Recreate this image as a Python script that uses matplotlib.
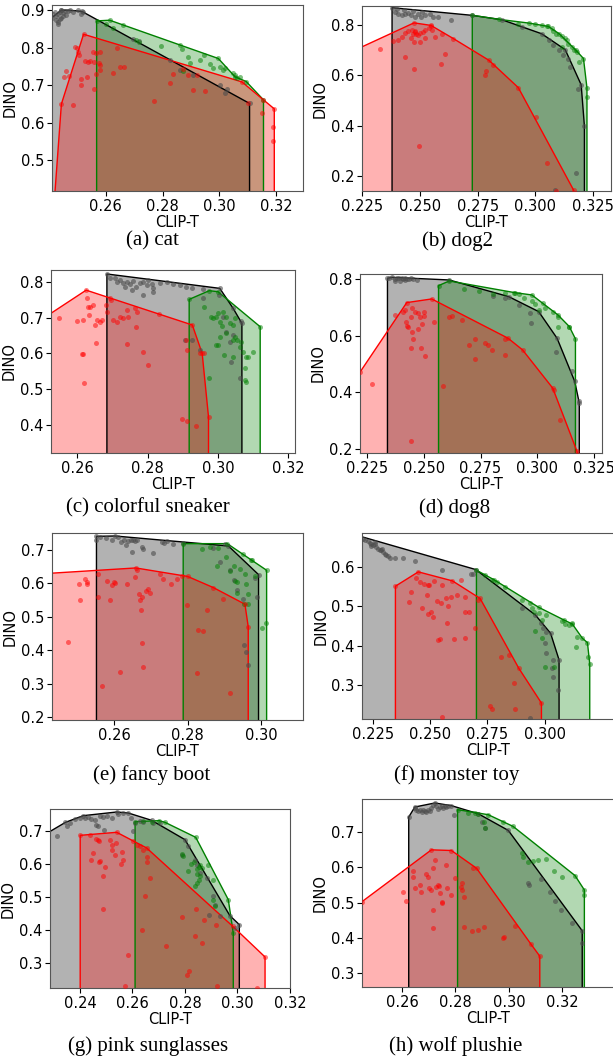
import numpy as np
import matplotlib
matplotlib.use("Agg")
import matplotlib.pyplot as plt

# ------------------------------------------------------------------
# Data (CLIP-T, DINO).  *_front = upper hull
# vertices, *_pts = remaining samples.
# ------------------------------------------------------------------

# (a) cat
cat_gray_front = [(0.2410, 0.880), (0.2444, 0.9005), (0.2475, 0.900), (0.2516, 0.897), (0.3106, 0.6515)]
cat_gray_pts = [(0.2414, 0.889), (0.2420, 0.8956), (0.2426, 0.884), (0.2432, 0.890), (0.2438, 0.8956),
                (0.2444, 0.900), (0.2449, 0.893), (0.2455, 0.898), (0.2461, 0.887), (0.2426, 0.875),
                (0.2432, 0.868), (0.2438, 0.878), (0.2432, 0.8627), (0.2444, 0.880), (0.2449, 0.884),
                (0.2467, 0.899), (0.2485, 0.8956), (0.2502, 0.900), (0.2520, 0.8956), (0.2514, 0.890),
                (0.2696, 0.8246), (0.2718, 0.818), (0.2826, 0.767), (0.2861, 0.740), (0.2906, 0.727),
                (0.3002, 0.700), (0.3020, 0.678), (0.3028, 0.690)]
cat_green_front = [(0.2568, 0.8716), (0.2614, 0.8734), (0.2996, 0.7714), (0.3055, 0.7226), (0.3094, 0.710),
                   (0.3155, 0.661)]
cat_green_pts = [(0.2602, 0.8627), (0.2624, 0.8539), (0.2661, 0.862), (0.2708, 0.822), (0.2718, 0.8157),
                 (0.2795, 0.805), (0.2861, 0.8085), (0.2867, 0.7980), (0.2891, 0.7758), (0.2896, 0.7581),
                 (0.2932, 0.7670), (0.2944, 0.7800), (0.2979, 0.7450), (0.2967, 0.7560), (0.3002, 0.7492),
                 (0.3014, 0.7404), (0.3020, 0.7450), (0.3049, 0.7315), (0.3055, 0.7270), (0.3061, 0.7182),
                 (0.3073, 0.7226), (0.2873, 0.7386)]
cat_red_front = [(0.2420, 0.40), (0.2444, 0.6499), (0.2522, 0.836), (0.3079, 0.709), (0.3155, 0.661),
                 (0.3193, 0.637)]
cat_red_pts = [(0.2491, 0.802), (0.2500, 0.800), (0.2502, 0.790), (0.2506, 0.780), (0.2514, 0.716),
               (0.2512, 0.700), (0.2534, 0.723), (0.2528, 0.765), (0.2538, 0.7625), (0.2546, 0.7652),
               (0.2555, 0.7891), (0.2558, 0.7625), (0.2567, 0.7847), (0.2579, 0.7891), (0.2576, 0.7581),
               (0.2581, 0.7537), (0.2579, 0.7404), (0.2558, 0.6889), (0.2567, 0.7297), (0.2485, 0.647),
               (0.2471, 0.724), (0.2461, 0.739), (0.2638, 0.800), (0.2626, 0.733), (0.2649, 0.749),
               (0.2664, 0.749), (0.2769, 0.658), (0.2826, 0.705), (0.2838, 0.730), (0.2871, 0.743),
               (0.2891, 0.7271), (0.2906, 0.6871), (0.2949, 0.685), (0.2922, 0.727), (0.3102, 0.653),
               (0.3149, 0.625), (0.3188, 0.590), (0.3188, 0.550), (0.2453, 0.7226)]

# (b) dog2
dog2_gray_front = [(0.2380, 0.867), (0.2724, 0.837), (0.2854, 0.8197), (0.3027, 0.764), (0.3129, 0.701),
                   (0.3198, 0.562), (0.3212, 0.399)]
dog2_gray_pts = [(0.2392, 0.850), (0.2406, 0.843), (0.2421, 0.837), (0.2435, 0.843), (0.2449, 0.845),
                 (0.2464, 0.837), (0.2478, 0.830), (0.2493, 0.843), (0.2507, 0.830), (0.2522, 0.837),
                 (0.2543, 0.843), (0.2558, 0.830), (0.2579, 0.830), (0.2637, 0.820), (0.2400, 0.860),
                 (0.2430, 0.857), (0.2470, 0.852), (0.2510, 0.848), (0.2941, 0.791), (0.3078, 0.718),
                 (0.3143, 0.666), (0.3150, 0.633), (0.3183, 0.547), (0.3175, 0.212), (0.3085, 0.145),
                 (0.3060, 0.740), (0.3100, 0.700), (0.3120, 0.680)]
dog2_green_front = [(0.2727, 0.837), (0.2842, 0.821), (0.2973, 0.806), (0.3056, 0.793), (0.3103, 0.764),
                    (0.3175, 0.699), (0.3208, 0.666), (0.3223, 0.550)]
dog2_green_pts = [(0.2926, 0.804), (0.2999, 0.801), (0.3027, 0.797), (0.3049, 0.796), (0.3071, 0.788),
                  (0.3078, 0.775), (0.3088, 0.764), (0.3114, 0.754), (0.3129, 0.749), (0.3136, 0.738),
                  (0.3143, 0.725), (0.3157, 0.712), (0.3165, 0.699), (0.3179, 0.692), (0.3189, 0.653),
                  (0.3223, 0.514), (0.3114, 0.711)]
dog2_red_front = [(0.2150, 0.670), (0.2475, 0.807), (0.2548, 0.797), (0.2645, 0.745), (0.2799, 0.659),
                  (0.2926, 0.551), (0.3165, 0.146), (0.3175, 0.100)]
dog2_red_pts = [(0.2327, 0.703), (0.2384, 0.734), (0.2406, 0.741), (0.2423, 0.751), (0.2435, 0.767),
                (0.2449, 0.775), (0.2467, 0.780), (0.2471, 0.764), (0.2478, 0.776), (0.2481, 0.770),
                (0.2485, 0.764), (0.2493, 0.758), (0.2500, 0.767), (0.2514, 0.771), (0.2524, 0.780),
                (0.2538, 0.788), (0.2547, 0.793), (0.2552, 0.780), (0.2566, 0.751), (0.2524, 0.749),
                (0.2503, 0.732), (0.2477, 0.730), (0.2460, 0.746), (0.2435, 0.672), (0.2473, 0.626),
                (0.2591, 0.646), (0.2608, 0.683), (0.2594, 0.764), (0.2785, 0.617), (0.2782, 0.600),
                (0.2818, 0.640), (0.3001, 0.433), (0.3049, 0.251), (0.2496, 0.321), (0.3088, 0.142)]

# (c) colorful sneaker
sneaker_gray_front = [(0.2684, 0.8235), (0.3005, 0.7831), (0.3043, 0.727), (0.3068, 0.6845)]
sneaker_gray_pts = [(0.2693, 0.8113), (0.2707, 0.8113), (0.2712, 0.8019), (0.2721, 0.8066), (0.2731, 0.7972),
                    (0.2735, 0.7878), (0.2740, 0.8019), (0.2749, 0.7944), (0.2759, 0.8038), (0.2768, 0.7878),
                    (0.2778, 0.7972), (0.2787, 0.8019), (0.2797, 0.7925), (0.2802, 0.8066), (0.2811, 0.7944),
                    (0.2816, 0.7831), (0.2835, 0.7972), (0.2854, 0.800), (0.2872, 0.7944), (0.2891, 0.7925),
                    (0.2910, 0.7878), (0.2926, 0.7831), (0.2958, 0.7812), (0.2787, 0.764), (0.2814, 0.774),
                    (0.2754, 0.7784), (0.2958, 0.7549), (0.3003, 0.7643), (0.3014, 0.7033), (0.3024, 0.661),
                    (0.3037, 0.5765), (0.3062, 0.530), (0.3043, 0.6516), (0.3033, 0.6329), (0.2907, 0.6376),
                    (0.2950, 0.6094), (0.2926, 0.6376), (0.3066, 0.690)]
sneaker_green_front = [(0.2918, 0.7521), (0.2975, 0.7765), (0.3000, 0.7737), (0.3120, 0.6751)]
sneaker_green_pts = [(0.2960, 0.7315), (0.2981, 0.7033), (0.2986, 0.6986), (0.2995, 0.7014), (0.3005, 0.6892),
                     (0.3000, 0.7127), (0.3014, 0.7174), (0.3024, 0.7033), (0.3033, 0.6845), (0.3043, 0.6798),
                     (0.3047, 0.6986), (0.2995, 0.6235), (0.3005, 0.6469), (0.3012, 0.6779), (0.3024, 0.6563),
                     (0.3043, 0.6376), (0.3047, 0.6469), (0.3054, 0.6376), (0.3066, 0.6329), (0.3062, 0.6188),
                     (0.3071, 0.6047), (0.3081, 0.5906), (0.3085, 0.5906), (0.3100, 0.6047), (0.3076, 0.5577),
                     (0.3081, 0.5202), (0.3076, 0.5249), (0.3043, 0.5906), (0.3016, 0.5953), (0.3000, 0.6235),
                     (0.2975, 0.530)]
sneaker_red_front = [(0.2505, 0.700), (0.2625, 0.778), (0.2927, 0.680), (0.2955, 0.600), (0.2973, 0.4216)]
sneaker_red_pts = [(0.2549, 0.699), (0.2600, 0.6911), (0.2617, 0.6939), (0.2628, 0.7549), (0.2631, 0.7315),
                   (0.2634, 0.7080), (0.2636, 0.7315), (0.2645, 0.7362), (0.2650, 0.6798), (0.2655, 0.6939),
                   (0.2664, 0.6892), (0.2669, 0.6939), (0.2681, 0.7362), (0.2683, 0.7174), (0.2693, 0.7549),
                   (0.2697, 0.7502), (0.2702, 0.6939), (0.2712, 0.6892), (0.2721, 0.7033), (0.2731, 0.6986),
                   (0.2740, 0.7221), (0.2745, 0.7033), (0.2764, 0.7268), (0.2770, 0.7174), (0.2767, 0.6751),
                   (0.2612, 0.598), (0.2617, 0.598), (0.2620, 0.517), (0.2652, 0.6282), (0.2740, 0.6254),
                   (0.2787, 0.6047), (0.2802, 0.5671), (0.2833, 0.7099), (0.2910, 0.6376), (0.2912, 0.6094),
                   (0.2899, 0.415), (0.2912, 0.4103), (0.2937, 0.3962), (0.2950, 0.6000), (0.2960, 0.6000)]

# (d) dog8
dog8_gray_front = [(0.2340, 0.8024), (0.2359, 0.8059), (0.2612, 0.7965), (0.2874, 0.7376), (0.3006, 0.6847),
                   (0.3087, 0.5906), (0.3165, 0.4376), (0.3185, 0.3612)]
dog8_gray_pts = [(0.2347, 0.8024), (0.2371, 0.800), (0.2381, 0.8024), (0.2391, 0.8047), (0.2403, 0.8024),
                 (0.2410, 0.800), (0.2418, 0.8047), (0.2425, 0.7988), (0.2435, 0.800), (0.2444, 0.8024),
                 (0.2454, 0.800), (0.2469, 0.7965), (0.2396, 0.7929), (0.2374, 0.7929), (0.2418, 0.7953),
                 (0.2807, 0.7400), (0.2918, 0.7082), (0.2969, 0.6788), (0.2974, 0.6435), (0.3082, 0.5435),
                 (0.3153, 0.4729), (0.3182, 0.3671), (0.2856, 0.7340)]
dog8_green_front = [(0.2565, 0.7765), (0.2612, 0.7929), (0.2900, 0.7518), (0.2976, 0.7435), (0.3024, 0.7141),
                    (0.3091, 0.6729), (0.3141, 0.6318), (0.3168, 0.5882)]
dog8_green_pts = [(0.2679, 0.7647), (0.2741, 0.7576), (0.2803, 0.7459), (0.2859, 0.7494), (0.2896, 0.7494),
                  (0.2918, 0.7459), (0.2940, 0.7341), (0.2976, 0.7224), (0.2991, 0.7106), (0.3006, 0.6906),
                  (0.3035, 0.6965), (0.3068, 0.6847), (0.3090, 0.6671), (0.3091, 0.6318), (0.3138, 0.6318)]
dog8_red_front = [(0.2219, 0.4706), (0.2425, 0.7165), (0.2535, 0.7294), (0.2871, 0.5906), (0.2935, 0.5494),
                  (0.3068, 0.4141), (0.3175, 0.1906), (0.3180, 0.170)]
dog8_red_pts = [(0.2271, 0.428), (0.2374, 0.6729), (0.2410, 0.6847), (0.2418, 0.6906), (0.2422, 0.649),
                (0.2425, 0.6353), (0.2432, 0.6318), (0.2444, 0.6671), (0.2450, 0.6965), (0.2462, 0.6847),
                (0.2476, 0.6788), (0.2484, 0.6671), (0.2499, 0.6706), (0.2499, 0.6824), (0.2474, 0.6235),
                (0.2494, 0.640), (0.2454, 0.5882), (0.2444, 0.5576), (0.2450, 0.6141), (0.2488, 0.5553),
                (0.2506, 0.5282), (0.2547, 0.649), (0.2444, 0.2259), (0.2612, 0.6671), (0.2624, 0.6694),
                (0.2668, 0.655), (0.2700, 0.5671), (0.2726, 0.5882), (0.2771, 0.5729), (0.2782, 0.5671),
                (0.2800, 0.5494), (0.2856, 0.5882), (0.2859, 0.5318), (0.2726, 0.5176), (0.3072, 0.4082),
                (0.3101, 0.3012), (0.2586, 0.4200)]

# (e) fancy boot
boot_gray_front = [(0.2552, 0.7398), (0.2602, 0.7408), (0.2911, 0.7109), (0.2993, 0.6254)]
boot_gray_pts = [(0.2552, 0.7298), (0.2561, 0.7378), (0.2579, 0.7358), (0.2593, 0.7298), (0.2611, 0.7378),
                 (0.2620, 0.7229), (0.2626, 0.7278), (0.2632, 0.7129), (0.2638, 0.7258), (0.2645, 0.7298),
                 (0.2652, 0.7278), (0.2656, 0.7258), (0.2661, 0.7278), (0.2679, 0.7030), (0.2675, 0.7080),
                 (0.2650, 0.6930), (0.2706, 0.6911), (0.2729, 0.7229), (0.2735, 0.7199), (0.2743, 0.7258),
                 (0.2759, 0.7179), (0.2788, 0.7199), (0.2870, 0.7050), (0.2902, 0.7159), (0.2888, 0.6632),
                 (0.2915, 0.6384), (0.2925, 0.6085), (0.2935, 0.5787), (0.2952, 0.5539), (0.2988, 0.5589),
                 (0.2984, 0.6165), (0.2954, 0.4147), (0.2959, 0.3948), (0.2963, 0.3551)]
boot_green_front = [(0.2788, 0.7179), (0.2908, 0.7179), (0.2972, 0.6702), (0.3015, 0.6384)]
boot_green_pts = [(0.2838, 0.7010), (0.2861, 0.7080), (0.2884, 0.7060), (0.2879, 0.6503), (0.2905, 0.6781),
                  (0.2914, 0.6364), (0.2925, 0.6503), (0.2930, 0.6066), (0.2935, 0.6036), (0.2943, 0.6433),
                  (0.2956, 0.6284), (0.2959, 0.5986), (0.2963, 0.5668), (0.2963, 0.5370), (0.2954, 0.5370),
                  (0.2935, 0.5718), (0.3002, 0.4674), (0.3014, 0.4823), (0.2950, 0.6881), (0.2975, 0.6682),
                  (0.2984, 0.6205)]
boot_red_front = [(0.2420, 0.629), (0.2659, 0.6453), (0.2800, 0.620), (0.2870, 0.5867), (0.2956, 0.5370),
                  (0.2965, 0.4694)]
boot_red_pts = [(0.2475, 0.4247), (0.2504, 0.5986), (0.2506, 0.5489), (0.2520, 0.6135), (0.2525, 0.6036),
                (0.2526, 0.5986), (0.2556, 0.6264), (0.2556, 0.5588), (0.2581, 0.6066), (0.2588, 0.5489),
                (0.2595, 0.5936), (0.2599, 0.6036), (0.2602, 0.6006), (0.2634, 0.5986), (0.2656, 0.6185),
                (0.2663, 0.6404), (0.2668, 0.5688), (0.2670, 0.5489), (0.2672, 0.5191), (0.2675, 0.5588),
                (0.2677, 0.4197), (0.2679, 0.3501), (0.2688, 0.5767), (0.2697, 0.5718), (0.2693, 0.5837),
                (0.2725, 0.6264), (0.2734, 0.6135), (0.2754, 0.5986), (0.2770, 0.6135), (0.2784, 0.6205),
                (0.2797, 0.5340), (0.2825, 0.3302), (0.2829, 0.4614), (0.2854, 0.5191), (0.2897, 0.5539),
                (0.2915, 0.2706), (0.2568, 0.2934), (0.2617, 0.3352), (0.2841, 0.4560)]

# (f) monster toy
toy_gray_front = [(0.2180, 0.680), (0.2699, 0.5933), (0.2960, 0.4778), (0.3026, 0.4315), (0.3063, 0.3641)]
toy_gray_pts = [(0.2206, 0.6716), (0.2216, 0.6674), (0.2228, 0.6657), (0.2235, 0.6607), (0.2243, 0.6590),
                (0.2250, 0.6548), (0.2257, 0.6573), (0.2265, 0.6505), (0.2272, 0.6463), (0.2279, 0.6438),
                (0.2287, 0.6421), (0.2294, 0.6379), (0.2301, 0.6337), (0.2309, 0.6295), (0.2316, 0.6270),
                (0.2323, 0.6236), (0.2345, 0.6236), (0.2382, 0.6236), (0.2433, 0.6152), (0.2550, 0.5910),
                (0.2679, 0.5815), (0.2689, 0.5815), (0.2899, 0.4947), (0.2982, 0.4585), (0.2992, 0.4441),
                (0.3004, 0.4357), (0.3001, 0.4079), (0.3004, 0.3810), (0.3036, 0.3641), (0.3033, 0.3430),
                (0.3036, 0.3220), (0.3060, 0.2883), (0.2938, 0.2167), (0.2240, 0.6520), (0.2290, 0.6460),
                (0.2260, 0.6620)]
toy_green_front = [(0.2702, 0.5916), (0.2777, 0.5680), (0.2975, 0.4972), (0.3085, 0.4652), (0.3121, 0.4551),
                   (0.3165, 0.4189), (0.3187, 0.4079), (0.3197, 0.3540)]
toy_green_pts = [(0.2740, 0.5789), (0.2770, 0.5680), (0.2792, 0.5621), (0.2828, 0.5495), (0.2902, 0.5158),
                 (0.2934, 0.5090), (0.2945, 0.4947), (0.2953, 0.4863), (0.2975, 0.4821), (0.2989, 0.4652),
                 (0.3004, 0.4778), (0.3001, 0.3473), (0.3041, 0.3473), (0.3077, 0.4635), (0.3089, 0.4551),
                 (0.3121, 0.4568), (0.3107, 0.4526), (0.3143, 0.4231), (0.3139, 0.3978), (0.3191, 0.3709),
                 (0.2960, 0.4370), (0.2990, 0.4200)]
toy_red_front = [(0.2348, 0.5511), (0.2448, 0.5874), (0.2597, 0.5646), (0.2718, 0.5200), (0.2887, 0.3430),
                 (0.2986, 0.2546)]
toy_red_pts = [(0.2415, 0.5368), (0.2407, 0.5115), (0.2440, 0.5730), (0.2455, 0.5621), (0.2465, 0.4947),
               (0.2474, 0.5579), (0.2484, 0.5284), (0.2489, 0.4804), (0.2492, 0.5537), (0.2494, 0.5537),
               (0.2503, 0.4863), (0.2514, 0.4736), (0.2518, 0.5646), (0.2528, 0.5141), (0.2536, 0.4147),
               (0.2543, 0.4180), (0.2547, 0.5073), (0.2553, 0.5537), (0.2568, 0.5200), (0.2572, 0.4568),
               (0.2579, 0.5006), (0.2591, 0.5225), (0.2606, 0.4180), (0.2616, 0.5284), (0.2635, 0.5663),
               (0.2650, 0.4863), (0.2653, 0.5225), (0.2670, 0.4863), (0.2650, 0.4189), (0.2697, 0.4441),
               (0.2708, 0.5158), (0.2811, 0.3725), (0.2846, 0.3767), (0.2865, 0.3051), (0.2872, 0.2394),
               (0.2762, 0.2462), (0.2770, 0.2394), (0.2553, 0.2192)]

# (g) pink sunglasses
glasses_gray_front = [(0.2270, 0.692), (0.2345, 0.7273), (0.2413, 0.7476), (0.2540, 0.7587), (0.2584, 0.7557),
                      (0.2673, 0.7334), (0.2800, 0.6747), (0.2971, 0.4438), (0.3007, 0.4165)]
glasses_gray_pts = [(0.2311, 0.6848), (0.2349, 0.7152), (0.2362, 0.7253), (0.2381, 0.7375), (0.2400, 0.7405),
                    (0.2419, 0.7405), (0.2432, 0.7435), (0.2444, 0.7375), (0.2457, 0.7334), (0.2463, 0.7203),
                    (0.2470, 0.7152), (0.2476, 0.7476), (0.2489, 0.7435), (0.2502, 0.7456), (0.2521, 0.7405),
                    (0.2546, 0.7537), (0.2565, 0.7557), (0.2593, 0.7405), (0.2610, 0.7253), (0.2629, 0.7304),
                    (0.2641, 0.7273), (0.2679, 0.7253), (0.2705, 0.7253), (0.2603, 0.700), (0.2491, 0.7051),
                    (0.2787, 0.6291), (0.2813, 0.6544), (0.2838, 0.6119), (0.2844, 0.5987), (0.2857, 0.5734),
                    (0.2883, 0.5582), (0.2893, 0.4468), (0.2908, 0.5025), (0.2914, 0.4772), (0.2933, 0.4418),
                    (0.2992, 0.4063)]
glasses_green_front = [(0.2610, 0.7294), (0.2702, 0.7324), (0.2724, 0.7273), (0.2841, 0.6818), (0.2965, 0.4924),
                       (0.2984, 0.3911)]
glasses_green_pts = [(0.2641, 0.7304), (0.2673, 0.7273), (0.2787, 0.6322), (0.2794, 0.6261), (0.2813, 0.5785),
                     (0.2822, 0.6018), (0.2834, 0.6058), (0.2844, 0.5856), (0.2857, 0.5987), (0.2855, 0.5916),
                     (0.2863, 0.5886), (0.2847, 0.5714), (0.2855, 0.5532), (0.2847, 0.5430), (0.2857, 0.5633),
                     (0.2838, 0.5349), (0.2889, 0.5987), (0.2908, 0.4904), (0.2914, 0.4722), (0.2908, 0.5532)]
glasses_red_front = [(0.2401, 0.6878), (0.2540, 0.6970), (0.2654, 0.6494), (0.2982, 0.4114), (0.3105, 0.3182)]
glasses_red_pts = [(0.2438, 0.6899), (0.2470, 0.6747), (0.2463, 0.6767), (0.2474, 0.6696), (0.2451, 0.6342),
                   (0.2444, 0.6119), (0.2476, 0.6089), (0.2474, 0.6058), (0.2495, 0.5916), (0.2489, 0.5633),
                   (0.2486, 0.4641), (0.2514, 0.6747), (0.2521, 0.6595), (0.2521, 0.6423), (0.2537, 0.6646),
                   (0.2533, 0.6291), (0.2559, 0.6362), (0.2563, 0.6139), (0.2584, 0.3253), (0.2555, 0.6018),
                   (0.2571, 0.2311), (0.2603, 0.6696), (0.2616, 0.6595), (0.2629, 0.6544), (0.2641, 0.6443),
                   (0.2657, 0.6220), (0.2654, 0.6058), (0.2667, 0.5582), (0.2649, 0.5025), (0.2635, 0.3992),
                   (0.2726, 0.3527), (0.2787, 0.4397), (0.2806, 0.2646), (0.2817, 0.2747), (0.2838, 0.3810),
                   (0.2842, 0.4641), (0.2872, 0.4296), (0.2863, 0.3608), (0.2921, 0.2311), (0.2918, 0.4144),
                   (0.3076, 0.2240)]

# (h) wolf plushie
wolf_gray_front = [(0.2625, 0.7428), (0.2648, 0.7713), (0.2723, 0.7827), (0.2785, 0.7751), (0.2885, 0.7523),
                   (0.2998, 0.7048), (0.3275, 0.4197)]
wolf_gray_pts = [(0.2648, 0.7684), (0.2654, 0.7618), (0.2660, 0.7589), (0.2666, 0.7637), (0.2673, 0.7561),
                 (0.2679, 0.7618), (0.2685, 0.7589), (0.2691, 0.7561), (0.2698, 0.7618), (0.2704, 0.7589),
                 (0.2710, 0.7684), (0.2716, 0.7779), (0.2729, 0.7732), (0.2735, 0.7656), (0.2741, 0.7713),
                 (0.2748, 0.7751), (0.2754, 0.7684), (0.2760, 0.7732), (0.2766, 0.7713), (0.2773, 0.7732),
                 (0.2795, 0.7494), (0.2898, 0.7276), (0.2910, 0.7114), (0.3073, 0.5546), (0.3075, 0.5499),
                 (0.3120, 0.5666), (0.3154, 0.5309), (0.3173, 0.5052), (0.3195, 0.4786), (0.3235, 0.4425),
                 (0.3273, 0.3855)]
wolf_green_front = [(0.2808, 0.7637), (0.2923, 0.7494), (0.3016, 0.7162), (0.3248, 0.5765), (0.3283, 0.5356)]
wolf_green_pts = [(0.2848, 0.7542), (0.2873, 0.7542), (0.2885, 0.7513), (0.2908, 0.7276), (0.2910, 0.7114),
                  (0.2979, 0.7276), (0.3050, 0.6401), (0.3054, 0.6306), (0.3073, 0.6164), (0.3091, 0.6192),
                  (0.3108, 0.6211), (0.3138, 0.6230), (0.3170, 0.5907), (0.3200, 0.5736), (0.3283, 0.5214)]
wolf_red_front = [(0.2450, 0.5024), (0.2710, 0.6496), (0.2785, 0.6477), (0.2879, 0.5974), (0.3083, 0.3817),
                  (0.3116, 0.3475)]
wolf_red_pts = [(0.2604, 0.5290), (0.2616, 0.5052), (0.2641, 0.5907), (0.2641, 0.5736), (0.2648, 0.5404),
                (0.2666, 0.5499), (0.2670, 0.5309), (0.2688, 0.5812), (0.2698, 0.5717), (0.2700, 0.5404),
                (0.2710, 0.5356), (0.2716, 0.5974), (0.2723, 0.6211), (0.2729, 0.5451), (0.2735, 0.5499),
                (0.2738, 0.5470), (0.2741, 0.5261), (0.2748, 0.5024), (0.2748, 0.4976), (0.2716, 0.4786),
                (0.2716, 0.4264), (0.2766, 0.6069), (0.2770, 0.5404), (0.2783, 0.5214), (0.2798, 0.5689),
                (0.2820, 0.5451), (0.2823, 0.5546), (0.2825, 0.5356), (0.2833, 0.5147), (0.2866, 0.5974),
                (0.2833, 0.4311), (0.2863, 0.4188), (0.2883, 0.4216), (0.2908, 0.4292), (0.2983, 0.4007),
                (0.2979, 0.3979), (0.3023, 0.4340)]

captions = ["(a) cat", "(b) dog2", "(c) colorful sneaker", "(d) dog8",
            "(e) fancy boot", "(f) monster toy", "(g) pink sunglasses", "(h) wolf plushie"]

series = [
    (cat_gray_front, cat_gray_pts, cat_green_front, cat_green_pts, cat_red_front, cat_red_pts),
    (dog2_gray_front, dog2_gray_pts, dog2_green_front, dog2_green_pts, dog2_red_front, dog2_red_pts),
    (sneaker_gray_front, sneaker_gray_pts, sneaker_green_front, sneaker_green_pts, sneaker_red_front, sneaker_red_pts),
    (dog8_gray_front, dog8_gray_pts, dog8_green_front, dog8_green_pts, dog8_red_front, dog8_red_pts),
    (boot_gray_front, boot_gray_pts, boot_green_front, boot_green_pts, boot_red_front, boot_red_pts),
    (toy_gray_front, toy_gray_pts, toy_green_front, toy_green_pts, toy_red_front, toy_red_pts),
    (glasses_gray_front, glasses_gray_pts, glasses_green_front, glasses_green_pts, glasses_red_front, glasses_red_pts),
    (wolf_gray_front, wolf_gray_pts, wolf_green_front, wolf_green_pts, wolf_red_front, wolf_red_pts),
]

xlims = [(0.2411, 0.3294), (0.225, 0.3327), (0.2525, 0.3219), (0.2219, 0.3285),
         (0.2431, 0.3114), (0.2202, 0.3303), (0.2286, 0.3200), (0.2450, 0.3394)]
ylims = [(0.418, 0.914), (0.142, 0.8737), (0.320, 0.8347), (0.1847, 0.8176),
         (0.1911, 0.7497), (0.2142, 0.686), (0.224, 0.7678), (0.260, 0.794)]
xticks = [[0.26, 0.28, 0.30, 0.32], [0.225, 0.25, 0.275, 0.30, 0.325],
          [0.26, 0.28, 0.30, 0.32], [0.225, 0.25, 0.275, 0.30, 0.325],
          [0.26, 0.28, 0.30], [0.225, 0.25, 0.275, 0.30],
          [0.24, 0.26, 0.28, 0.30, 0.32], [0.26, 0.28, 0.30, 0.32]]
yticks = [[0.5, 0.6, 0.7, 0.8, 0.9], [0.2, 0.4, 0.6, 0.8], [0.4, 0.5, 0.6, 0.7, 0.8],
          [0.2, 0.4, 0.6, 0.8], [0.2, 0.3, 0.4, 0.5, 0.6, 0.7], [0.3, 0.4, 0.5, 0.6],
          [0.3, 0.4, 0.5, 0.6, 0.7], [0.3, 0.4, 0.5, 0.6, 0.7]]

# axes rectangles in pixels: left, top, right, bottom
W, H = 613, 1061
boxes = [(52, 5, 303, 191), (362, 6, 611, 191), (51, 270, 295, 453), (360, 274, 602, 453),
         (52, 533, 303, 720), (362, 533, 614, 719), (50, 809, 290, 988), (362, 799, 614, 987)]
caption_pos = [(152, 241), (457, 241), (148, 508), (455, 508),
               (152, 775), (457, 775), (148, 1046), (456, 1046)]

STYLES = [("gray", 0.6, "black", "#4d4d4d", 0.6),
          ("green", 0.3, "green", "green", 0.5),
          ("red", 0.3, "red", "red", 0.5)]


def draw_front(ax, front, pts, fill_color, fill_alpha, line_color, dot_color, dot_alpha):
    fx = [p[0] for p in front]
    fy = [p[1] for p in front]
    px = [fx[0]] + fx + [fx[-1]]
    py = [0.0] + fy + [0.0]
    ax.fill(px, py, color=fill_color, alpha=fill_alpha, lw=0)
    ax.plot(px, py, color=line_color, lw=1.0)
    allpts = list(pts) + list(front)
    ax.scatter([p[0] for p in allpts], [p[1] for p in allpts], s=13, color=dot_color,
               alpha=dot_alpha, lw=0, zorder=3)


fig = plt.figure(figsize=(W / 100, H / 100), dpi=100)

for i, data in enumerate(series):
    l, t, r, b = boxes[i]
    ax = fig.add_axes([l / W, 1 - b / H, (r - l) / W, (b - t) / H])
    for k, (fc, fa, lc, dc, da) in enumerate(STYLES):
        draw_front(ax, data[2 * k], data[2 * k + 1], fc, fa, lc, dc, da)
    ax.set_xlim(*xlims[i])
    ax.set_ylim(*ylims[i])
    ax.set_xticks(xticks[i])
    ax.set_yticks(yticks[i])
    ax.tick_params(labelsize=10.5, length=3.5, width=0.8, pad=2)
    ax.set_xlabel("CLIP-T", fontsize=10.5, labelpad=1)
    ax.set_ylabel("DINO", fontsize=10.5, labelpad=2)
    for sp in ax.spines.values():
        sp.set_color("#555555")
        sp.set_linewidth(0.8)
    cx, cy = caption_pos[i]
    fig.text(cx / W, 1 - cy / H, captions[i], ha="center", va="center",
             fontsize=15, family="Liberation Serif")

fig.savefig("out.png", dpi=100)
